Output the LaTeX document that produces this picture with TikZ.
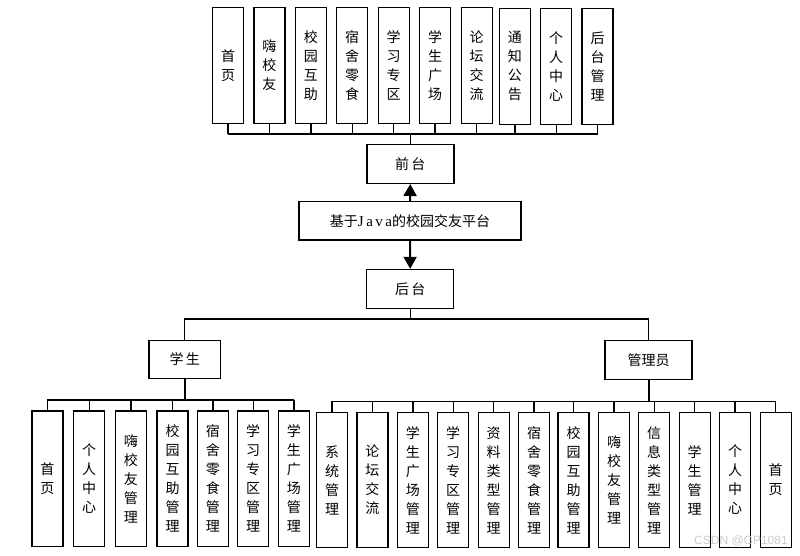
\documentclass[tikz,border=0pt]{standalone}
\usepackage{fontspec}
\setmainfont{Liberation Serif}
\newfontfamily\cjk{Noto Sans CJK SC}
\usetikzlibrary{arrows.meta}
\begin{document}
\begin{tikzpicture}[x=1pt,y=-1pt,
  box/.style={draw, line width=1.4pt, inner sep=0pt, align=center,
    font=\cjk\fontsize{14}{19}\selectfont},
  vbox/.style={box, minimum width=31pt},
  hbox/.style={box, minimum width=87pt, minimum height=39pt},
  conn/.style={line width=1.4pt},
  arr/.style={line width=2pt, -{Triangle[length=12pt,width=13pt]}}]
\useasboundingbox (0,0) rectangle (800,555);
% top row
\foreach \n/\x/\y/\t in {t1/228/65.3/首\\页, t2/269.3/65.3/嗨\\校\\友, t3/310.8/65.3/校\\园\\互\\助,
  t4/352.2/65.3/宿\\舍\\零\\食, t5/393.7/65.3/学\\习\\专\\区, t6/435/65.3/学\\生\\广\\场,
  t7/476.7/65.3/论\\坛\\交\\流, t8/514.8/66.3/通\\知\\公\\告, t9/556.2/66.3/个\\人\\中\\心,
  t10/597.5/66.3/后\\台\\管\\理}
  \node[vbox, minimum height=116pt] (\n) at (\x,\y) {\t};
\node[hbox] (qt) at (410.3,163.8) {前\,台};
\node[box, minimum width=222pt, minimum height=38.5pt] (pt) at (410,220.8)
  {基于{\rmfamily\fontsize{15}{19}\selectfont J\,a\,v\,a}的校园交友平台};
\node[hbox] (ht) at (410.2,289) {后\,台};
\node[box, minimum width=71.5pt, minimum height=38.5pt] (xs) at (184.7,359.5) {学\,生};
\node[hbox] (gly) at (648.5,360) {管理员};
% student row
\foreach \n/\x/\t in {s1/47.3/首\\页, s2/89.2/个\\人\\中\\心, s3/130.8/嗨\\校\\友\\管\\理,
  s4/172.5/校\\园\\互\\助\\管\\理, s5/212.8/宿\\舍\\零\\食\\管\\理,
  s6/253.2/学\\习\\专\\区\\管\\理, s7/293.8/学\\生\\广\\场\\管\\理}
  \node[vbox, minimum height=135.5pt] (\n) at (\x,478.8) {\t};
% admin row
\foreach \n/\x/\t in {a1/332/系\\统\\管\\理, a2/372.3/论\\坛\\交\\流, a3/412.8/学\\生\\广\\场\\管\\理,
  a4/453.2/学\\习\\专\\区\\管\\理, a5/493.7/资\\料\\类\\型\\管\\理, a6/534/宿\\舍\\零\\食\\管\\理,
  a7/573.5/校\\园\\互\\助\\管\\理, a8/614/嗨\\校\\友\\管\\理, a9/654.2/信\\息\\类\\型\\管\\理,
  a10/694.7/学\\生\\管\\理, a11/735/个\\人\\中\\心, a12/775.7/首\\页}
  \node[vbox, minimum height=134.5pt] (\n) at (\x,480) {\t};
% top bus
\coordinate (tb) at (410.3,134);
\foreach \n in {t1,t2,t3,t4,t5,t6,t7,t8,t9,t10}
  \draw[conn] (\n.south) -- (\n.south |- tb);
\draw[conn] (t1.south |- tb) -- (t10.south |- tb);
\draw[conn] (tb) -- (qt.north);
% arrows
\draw[arr] (pt.north) -- (qt.south);
\draw[arr] (pt.south) -- (ht.north);
% split
\coordinate (hb) at (410.2,319);
\draw[conn] (ht.south) -- (hb);
\draw[conn] (xs.north) |- (hb) -| (gly.north);
% student bus
\coordinate (sb) at (184.7,400);
\draw[line width=2pt] (xs.south) -- (sb);
\foreach \n in {s1,s2,s3,s4,s5,s6,s7}
  \draw[conn] (\n.north) -- (\n.north |- sb);
\draw[conn] (s1.north |- sb) -- (s7.north |- sb);
% admin bus
\coordinate (ab) at (648.5,401.3);
\draw[line width=2pt] (gly.south) -- (ab);
\foreach \n in {a1,a2,a3,a4,a5,a6,a7,a8,a9,a10,a11,a12}
  \draw[conn] (\n.north) -- (\n.north |- ab);
\draw[conn] (a1.north |- ab) -- (a12.north |- ab);
% watermark
\node[font=\fontspec{Liberation Sans}\fontsize{12}{12}\selectfont, text=black!20, inner sep=0pt]
  (wm) at (741,541) {CSDN @GP1081};
\end{tikzpicture}
\end{document}
